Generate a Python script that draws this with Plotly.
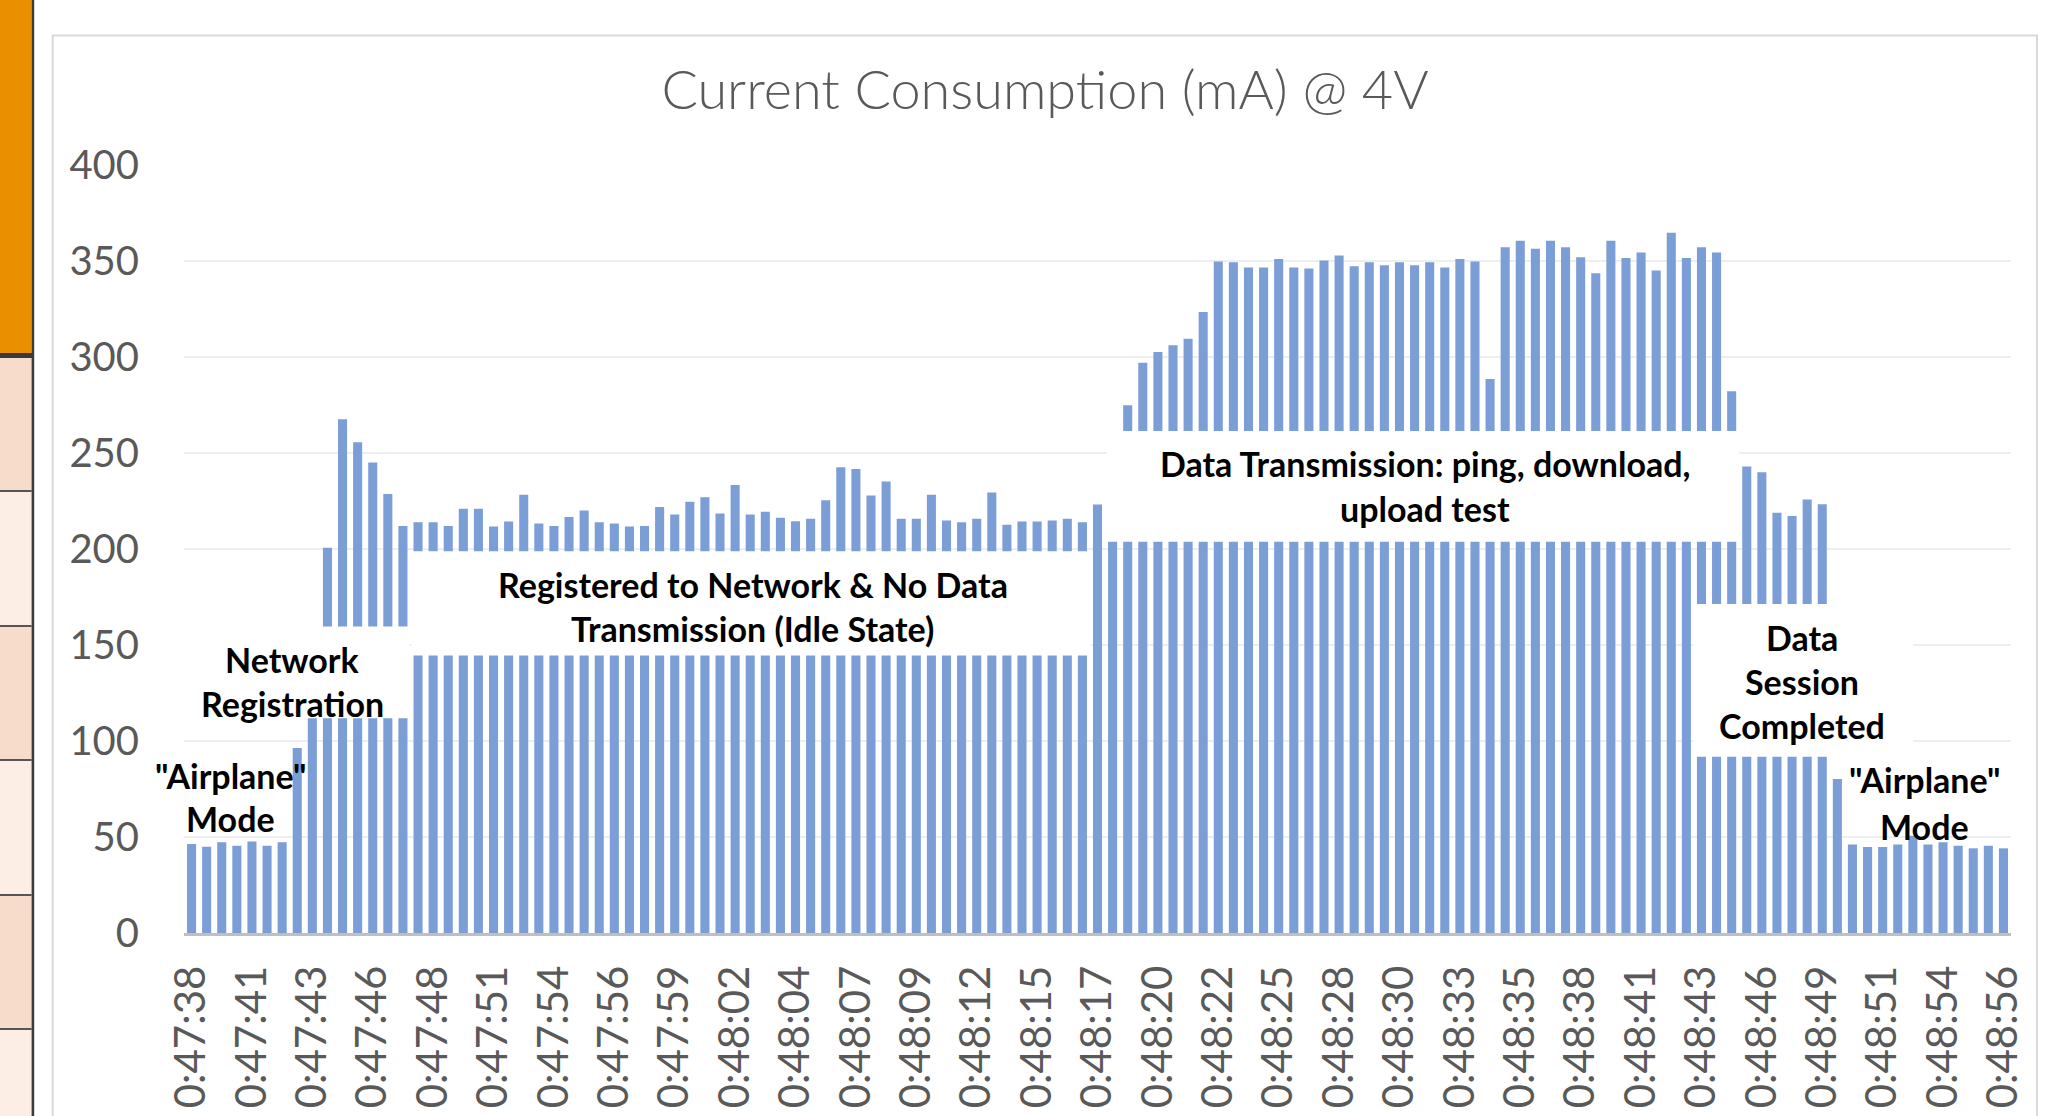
import plotly.graph_objects as go
from datetime import datetime, timedelta

# ---------------- data ----------------
current_ma = [
    46.3, 44.9, 47.3, 45.4, 47.6, 45.4, 47.3, 96.3, 150.0, 200.6,
    267.6, 255.6, 245.0, 228.7, 212.0, 213.9, 213.9, 212.0, 220.9, 220.9,
    211.7, 214.3, 228.3, 213.3, 212.0, 216.7, 220.0, 213.9, 213.3, 211.7,
    212.0, 221.9, 218.0, 224.6, 226.9, 218.5, 233.3, 218.0, 219.4, 216.3,
    214.4, 215.7, 225.4, 242.6, 241.7, 227.8, 235.2, 215.7, 215.7, 228.3,
    214.8, 213.9, 215.7, 229.4, 212.6, 214.3, 214.3, 214.8, 215.7, 213.9,
    223.2, 250.0, 274.9, 297.0, 302.6, 306.1, 309.5, 323.5, 349.8, 349.3,
    346.6, 346.6, 351.0, 346.6, 346.1, 350.3, 352.9, 347.3, 349.3, 347.8,
    349.3, 347.8, 349.3, 346.6, 351.0, 349.8, 288.6, 357.1, 360.6, 356.4,
    360.6, 357.1, 352.0, 343.6, 360.6, 351.5, 354.4, 345.1, 364.7, 351.5,
    357.1, 354.4, 282.2, 243.0, 240.0, 218.9, 217.2, 225.8, 223.3, 80.2,
    46.1, 44.8, 44.8, 46.1, 50.7, 46.1, 47.3, 45.4, 44.1, 45.4,
    44.1,
]

tick_labels = [
    "0:47:38", "0:47:41", "0:47:43", "0:47:46", "0:47:48", "0:47:51",
    "0:47:54", "0:47:56", "0:47:59", "0:48:02", "0:48:04", "0:48:07",
    "0:48:09", "0:48:12", "0:48:15", "0:48:17", "0:48:20", "0:48:22",
    "0:48:25", "0:48:28", "0:48:30", "0:48:33", "0:48:35", "0:48:38",
    "0:48:41", "0:48:43", "0:48:46", "0:48:49", "0:48:51", "0:48:54",
    "0:48:56",
]

# sample timestamps (categories): one sample every ~0.653 s starting 0:47:38
start_time = datetime(2000, 1, 1, 0, 47, 38)
sample_period_s = 0.6533
sample_times = []
for i in range(len(current_ma)):
    t = start_time + timedelta(seconds=i * sample_period_s)
    sample_times.append(f"{t.hour}:{t.minute:02d}:{t.second:02d}.{t.microsecond // 10000:02d}")

label_every = 4

# phase annotation text (line by line)
phase_labels = [
    # (lines, center category position, line centre values)
    (['"Airplane"', "Mode"], 2.59, [82.0, 59.6]),
    (["Network", "Registration"], 6.69, [142.3, 119.3]),
    (["Registered to Network & No Data", "Transmission (Idle State)"], 37.18, [181.6, 158.7]),
    (["Data Transmission: ping, download,", "upload test"], 81.69, [244.5, 221.0]),
    (["Data", "Session", "Completed"], 106.66, [153.9, 131.0, 107.9]),
    (['"Airplane"', "Mode"], 114.74, [79.7, 55.7]),
]

# white label boxes (category span, value span) that mask the bars, as in the original
label_boxes = [
    (-1.5, 14.43, 111.8, 159.6),
    (14.57, 59.55, 144.5, 198.8),
    (60.63, 102.5, 203.8, 261.5),
    (99.46, 114.03, 91.8, 171.4),
]

# ---------------- figure ----------------
W, H = 2066, 1116
ML, MR, MT, MB = 184, 55, 165, 183
PW, PH = W - ML - MR, H - MT - MB


def px(xpix):
    return (xpix - ML) / PW


def py(ypix):
    return (H - MB - ypix) / PH


fig = go.Figure()
fig.add_trace(go.Bar(
    x=sample_times,
    y=current_ma,
    marker=dict(color="#7B9ED6", line=dict(width=0)),
    hoverinfo="x+y",
))

shapes = []
for x0, x1, y0, y1 in label_boxes:
    shapes.append(dict(type="rect", xref="x", yref="y", x0=x0, x1=x1, y0=y0, y1=y1,
                       fillcolor="white", line=dict(width=0), layer="above"))

# surrounding spreadsheet decoration & chart border
shapes += [
    dict(type="rect", xref="paper", yref="paper", x0=px(0), x1=px(31.6), y0=py(353), y1=py(0),
         fillcolor="#E98F00", line=dict(width=0), layer="below"),
    dict(type="rect", xref="paper", yref="paper", x0=px(0), x1=px(33), y0=py(358), y1=py(353),
         fillcolor="#3A3A3A", line=dict(width=0), layer="below"),
]
cell_edges = [358, 491, 626, 760, 895, 1029, 1116]
cell_cols = ["#F8DCCB", "#FCEEE5", "#F8DCCB", "#FCEEE5", "#F8DCCB", "#FCEEE5"]
for k in range(len(cell_edges) - 1):
    shapes.append(dict(type="rect", xref="paper", yref="paper", x0=px(0), x1=px(31.6),
                       y0=py(cell_edges[k + 1]), y1=py(cell_edges[k]),
                       fillcolor=cell_cols[k], line=dict(width=0), layer="below"))
    if k > 0:
        shapes.append(dict(type="line", xref="paper", yref="paper", x0=px(0), x1=px(31.6),
                           y0=py(cell_edges[k]), y1=py(cell_edges[k]),
                           line=dict(color="#555555", width=2), layer="below"))
shapes += [
    dict(type="rect", xref="paper", yref="paper", x0=px(31.6), x1=px(34.2), y0=py(H), y1=py(0),
         fillcolor="#3A3A3A", line=dict(width=0), layer="below"),
    dict(type="rect", xref="paper", yref="paper", x0=px(52.7), x1=px(2037), y0=py(H + 20), y1=py(35.6),
         fillcolor="rgba(0,0,0,0)", line=dict(color="#D9D9D9", width=2), layer="below"),
]

annotations = []
for lines, xc, ys in phase_labels:
    for txt, yv in zip(lines, ys):
        annotations.append(dict(
            x=xc, y=yv, xref="x", yref="y", text=txt, showarrow=False,
            xanchor="center", yanchor="middle",
            font=dict(family="Lato", size=34, color="black", weight=700),
        ))

fig.update_layout(
    width=W, height=H,
    autosize=False,
    margin=dict(l=ML, r=MR, t=MT, b=MB, pad=0, autoexpand=False),
    paper_bgcolor="white",
    plot_bgcolor="white",
    bargap=0.4,
    showlegend=False,
    title=dict(
        text="Current Consumption (mA) @ 4V",
        font=dict(family="Lato", size=54, color="#595959", weight=300),
        xref="container", x=1045 / W, xanchor="center",
        yref="container", y=1 - 90 / H, yanchor="middle",
    ),
    xaxis=dict(
        type="category",
        range=[-0.5, len(current_ma) - 0.5],
        autorange=False,
        automargin=False,
        tickmode="array",
        tickvals=sample_times[::label_every],
        ticktext=tick_labels,
        tickangle=-90,
        tickfont=dict(family="Lato", size=42, color="#595959"),
        ticks="outside", ticklen=13, tickcolor="rgba(0,0,0,0)",
        showline=True, linecolor="#BFBFBF", linewidth=2.5,
        showgrid=False, zeroline=False,
    ),
    yaxis=dict(
        range=[0, 400],
        autorange=False,
        automargin=False,
        tickmode="linear", tick0=0, dtick=50,
        tickfont=dict(family="Lato", size=40, color="#595959"),
        ticks="outside", ticklen=36, tickcolor="rgba(0,0,0,0)",
        showgrid=True, gridcolor="#EEEEEE", gridwidth=2,
        zeroline=False, showline=False,
    ),
    shapes=shapes,
    annotations=annotations,
)

fig.write_html(
    "out.html",
    config={"displayModeBar": False},
    post_script="document.body.style.margin='0';document.body.style.padding='0';document.body.style.overflow='hidden';",
)
